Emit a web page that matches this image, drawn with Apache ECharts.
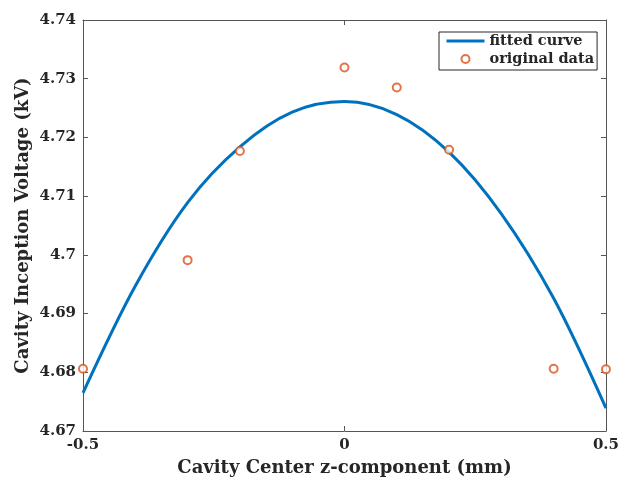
<!DOCTYPE html>
<html>
<head>
<meta charset="utf-8">
<script src="https://cdn.jsdelivr.net/npm/echarts@6/dist/echarts.min.js"></script>
<style>
  html, body { margin: 0; padding: 0; background: #fff; }
  #chart { width: 622px; height: 482px; }
</style>
</head>
<body>
<div id="chart"></div>
<script>
// Measured cavity inception voltages (kV) versus cavity centre z position (mm)
const dataX = [-0.5, -0.3, -0.2, 0, 0.1, 0.2, 0.4, 0.5];
const dataY = [4.6806, 4.6991, 4.7177, 4.7319, 4.7285, 4.7179, 4.6806, 4.6805];

// Fitted curve, sampled along z
const curveX = [-0.5, -0.4, -0.3, -0.2, -0.1, 0, 0.1, 0.2, 0.3, 0.4, 0.5];
const curveY = [4.6765, 4.6947, 4.7089, 4.7184, 4.7243, 4.7261, 4.7239, 4.7175, 4.7070, 4.6926, 4.6739];

// Axis ranges and tick spacing
const xMin = -0.5, xMax = 0.5, xStep = 0.5;
const yMin = 4.67, yMax = 4.74, yStep = 0.01;

const seriesNames = ['fitted curve', 'original data'];
const xTitle = 'Cavity Center z-component (mm)';
const yTitle = 'Cavity Inception Voltage (kV)';

const FONT = '"DejaVu Serif", serif';
const INK = '#262626';
const AXIS = '#555555';
const BLUE = '#0072BD';
const ORANGE = '#D95319';

const zip = (xs, ys) => xs.map((x, i) => [x, ys[i]]);

// Box edges: mirrored axes with inward ticks and no labels
const tickOnly = (position) => ({
  position,
  axisLine: { show: true, onZero: false, lineStyle: { color: AXIS, width: 1 } },
  axisTick: { show: true, inside: true, length: 5, lineStyle: { color: AXIS } },
  axisLabel: { show: false },
  splitLine: { show: false }
});

const chart = echarts.init(document.getElementById('chart'), null, { renderer: 'canvas' });

chart.setOption({
  backgroundColor: '#ffffff',
  animation: false,
  grid: { left: 83, right: 13, top: 20, bottom: 46, containLabel: false },
  legend: {
    data: [
      // line-only key: hide the marker the line icon would otherwise carry
      { name: seriesNames[0], itemStyle: { opacity: 0 }, lineStyle: { width: 3, color: BLUE } },
      { name: seriesNames[1], icon: 'emptyCircle', itemStyle: { borderWidth: 1 } }
    ],
    orient: 'vertical',
    left: 439,
    top: 32,
    itemWidth: 38,
    itemHeight: 8,
    itemGap: 2,
    padding: [1, 3, 3, 6],
    borderColor: INK,
    borderWidth: 1,
    backgroundColor: '#ffffff',
    textStyle: { fontFamily: FONT, fontWeight: 'bold', fontSize: 14.5, color: INK, lineHeight: 16 }
  },
  xAxis: [
    {
      type: 'value', min: xMin, max: xMax, interval: xStep,
      position: 'bottom',
      name: xTitle, nameLocation: 'middle', nameGap: 28,
      nameTextStyle: { fontFamily: FONT, fontWeight: 'bold', fontSize: 18, color: INK },
      axisLine: { show: true, onZero: false, lineStyle: { color: AXIS, width: 1 } },
      axisTick: { show: true, inside: true, length: 5, lineStyle: { color: AXIS } },
      axisLabel: { margin: 7, fontFamily: FONT, fontWeight: 'bold', fontSize: 15, color: INK,
                   formatter: v => String(+v.toFixed(2)) },
      splitLine: { show: false }
    },
    Object.assign({ type: 'value', min: xMin, max: xMax, interval: xStep }, tickOnly('top'))
  ],
  yAxis: [
    {
      type: 'value', min: yMin, max: yMax, interval: yStep,
      position: 'left',
      name: yTitle, nameLocation: 'middle', nameGap: 51, nameMoveOverlap: false,
      nameTextStyle: { fontFamily: FONT, fontWeight: 'bold', fontSize: 18, color: INK },
      axisLine: { show: true, onZero: false, lineStyle: { color: AXIS, width: 1 } },
      axisTick: { show: true, inside: true, length: 5, lineStyle: { color: AXIS } },
      axisLabel: { margin: 7, fontFamily: FONT, fontWeight: 'bold', fontSize: 15, color: INK,
                   formatter: v => String(+v.toFixed(2)) },
      splitLine: { show: false }
    },
    Object.assign({ type: 'value', min: yMin, max: yMax, interval: yStep }, tickOnly('right'))
  ],
  series: [
    {
      name: seriesNames[0],
      type: 'line',
      data: zip(curveX, curveY),
      smooth: 0.33,
      symbol: 'none',
      lineStyle: { color: BLUE, width: 3 },
      itemStyle: { color: BLUE },
      z: 2
    },
    {
      name: seriesNames[1],
      type: 'scatter',
      data: zip(dataX, dataY),
      symbol: 'emptyCircle',
      symbolSize: 8,
      itemStyle: { color: ORANGE, borderColor: ORANGE, borderWidth: 0.8 },
      z: 3
    }
  ]
});
</script>
</body>
</html>
